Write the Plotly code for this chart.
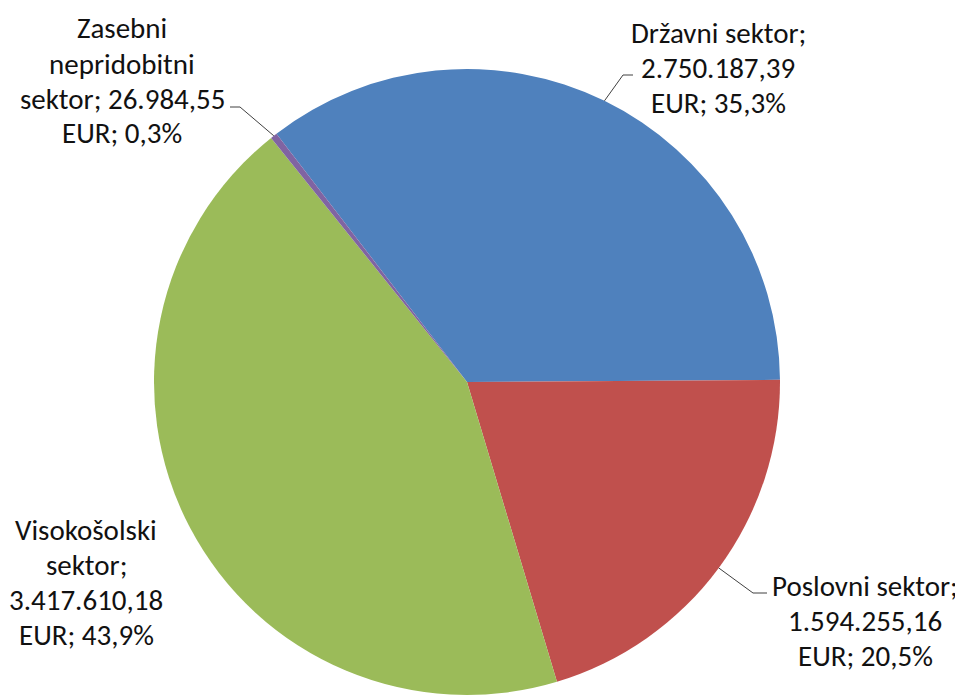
import math
import plotly.graph_objects as go

# ---- data ----
categories = ["Državni sektor", "Poslovni sektor", "Visokošolski sektor", "Zasebni nepridobitni sektor"]
values = [2750187.39, 1594255.16, 3417610.18, 26984.55]
value_labels = ["2.750.187,39", "1.594.255,16", "3.417.610,18", "26.984,55"]
pct_labels = ["35,3%", "20,5%", "43,9%", "0,3%"]
colors = ["#4F81BD", "#C0504D", "#9BBB59", "#8064A2"]

# ---- layout config (pixels in the screenshot) ----
W, H = 963, 695
PAGE_OFF = 8          # default body margin of the html page
CX, CY, R = 467, 382, 313
ROTATION = -37.5
LINE_H = 35
FONT_SIZE = 29

label_lines = [
    ["Državni sektor;", value_labels[0], f"EUR; {pct_labels[0]}"],
    ["Poslovni sektor;", value_labels[1], f"EUR; {pct_labels[1]}"],
    ["Visokošolski", "sektor;", value_labels[2], f"EUR; {pct_labels[2]}"],
    ["Zasebni", "nepridobitni", f"sektor; {value_labels[3]}", f"EUR; {pct_labels[3]}"],
]
label_pos = [(718, 68), (865, 621), (86, 582), (122, 81)]
leader_end = [(633, 75), (767, 593), None, (230, 107)]
leader_elbow_dx = [-10, -14, 0, 10]

def px(x):
    return (x - PAGE_OFF) / W

def py(y):
    return 1 - (y - PAGE_OFF) / H

fig = go.Figure()
fig.add_trace(go.Pie(
    labels=categories,
    values=values,
    sort=False,
    direction="clockwise",
    rotation=ROTATION,
    marker=dict(colors=colors, line=dict(width=0)),
    textinfo="none",
    hoverinfo="label+value+percent",
    showlegend=False,
    domain=dict(x=[px(CX - R), px(CX + R)], y=[max(0, py(CY + R)), py(CY - R)]),
))

total = sum(values)
cum = 0.0
shapes = []
annotations = []
font = dict(family="Carlito, Calibri, Lato, sans-serif", size=FONT_SIZE, color="#111111")
for i, v in enumerate(values):
    frac = v / total
    mid = math.radians(ROTATION + 360 * (cum + frac / 2))
    cum += frac
    ex = CX + R * math.sin(mid)
    ey = CY - R * math.cos(mid)
    if leader_end[i] is not None:
        lx, ly = leader_end[i]
        bx = lx + leader_elbow_dx[i]
        path = f"M {px(ex)},{py(ey)} L {px(bx)},{py(ly)} L {px(lx)},{py(ly)}"
        shapes.append(dict(type="path", path=path, xref="paper", yref="paper",
                           line=dict(color="#404040", width=1)))
    lines = label_lines[i]
    n = len(lines)
    cxl, cyl = label_pos[i]
    for k, t in enumerate(lines):
        yy = cyl + (k - (n - 1) / 2) * LINE_H
        annotations.append(dict(
            x=px(cxl), y=py(yy), xref="paper", yref="paper",
            text=t, showarrow=False, xanchor="center", yanchor="middle",
            align="center", font=font,
        ))

fig.update_layout(
    width=W, height=H,
    margin=dict(l=0, r=0, t=0, b=0),
    paper_bgcolor="white", plot_bgcolor="white",
    shapes=shapes, annotations=annotations,
)
fig.write_html("out.html")
